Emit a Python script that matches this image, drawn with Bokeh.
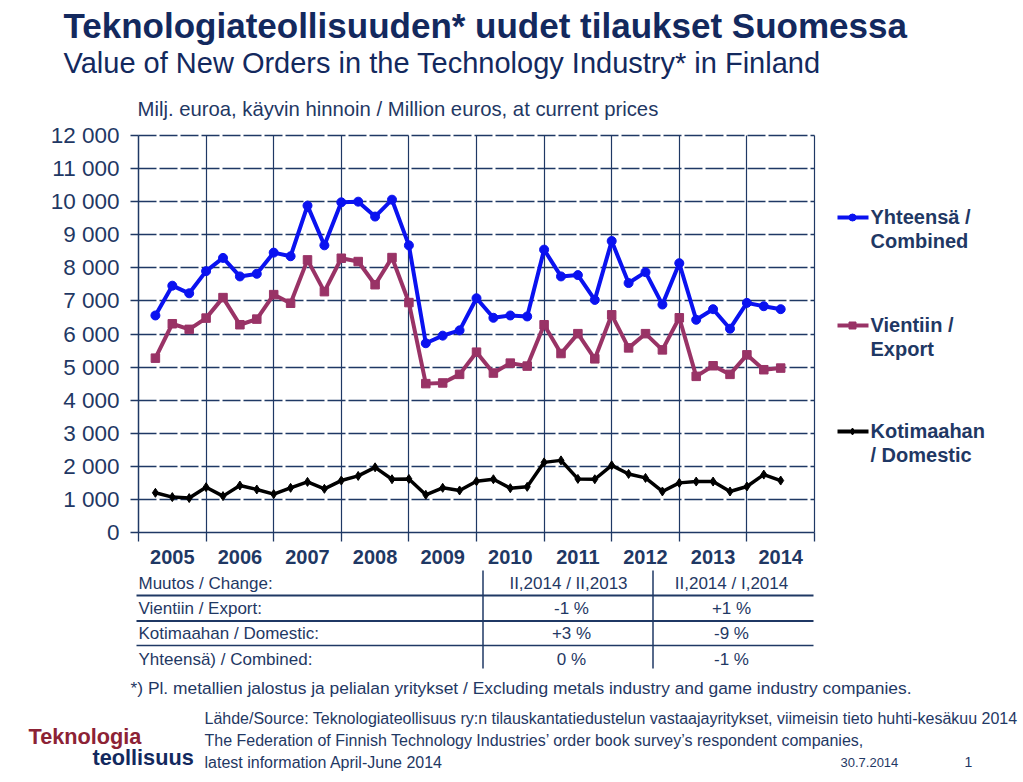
from bokeh.plotting import figure
from bokeh.models import Range1d, LinearAxis, FixedTicker, Grid, Label, Arrow
from bokeh.embed import file_html
from bokeh.resources import INLINE

# ---------------- data (million euros, quarterly 2005 Q1 .. 2014 Q2) ----------------
years = ["2005", "2006", "2007", "2008", "2009", "2010", "2011", "2012", "2013", "2014"]
combined = [6560, 7460, 7230, 7900, 8300, 7740, 7820, 8460, 8350, 9880,
            8680, 9980, 10000, 9550, 10060, 8680, 5720, 5950, 6110, 7080,
            6490, 6560, 6530, 8550, 7740, 7780, 7030, 8810, 7540, 7870,
            6890, 8140, 6430, 6750, 6160, 6940, 6840, 6750]
export = [5270, 6310, 6140, 6480, 7100, 6280, 6450, 7190, 6930, 8240,
          7280, 8290, 8190, 7490, 8310, 6950, 4500, 4520, 4780, 5450,
          4820, 5120, 5030, 6280, 5410, 6010, 5250, 6580, 5580, 6010,
          5520, 6490, 4720, 5040, 4780, 5370, 4920, 4970]
domestic = [1200, 1070, 1040, 1370, 1100, 1420, 1300, 1160, 1350, 1530,
            1320, 1570, 1710, 1970, 1610, 1620, 1140, 1350, 1270, 1550,
            1610, 1340, 1380, 2120, 2180, 1620, 1610, 2030, 1770, 1650,
            1240, 1500, 1540, 1540, 1240, 1390, 1750, 1570]
y_ticks = [0, 1000, 2000, 3000, 4000, 5000, 6000, 7000, 8000, 9000, 10000, 11000, 12000]
y_tick_labels = ["0", "1 000", "2 000", "3 000", "4 000", "5 000", "6 000", "7 000",
                 "8 000", "9 000", "10 000", "11 000", "12 000"]
legend_lines = [["Yhteensä /", "Combined"], ["Vientiin /", "Export"], ["Kotimaahan", "/ Domestic"]]
table_header = ["Muutos / Change:", "II,2014 / II,2013", "II,2014 / I,2014"]
table_rows = ["Vientiin / Export:", "Kotimaahan / Domestic:", "Yhteensä) / Combined:"]
change_year = ["-1 %", "+3 %", "0 %"]
change_quarter = ["+1 %", "-9 %", "-1 %"]

title_fi = "Teknologiateollisuuden* uudet tilaukset Suomessa"
title_en = "Value of New Orders in the Technology Industry* in Finland"
unit_text = "Milj. euroa, käyvin hinnoin / Million euros, at current prices"
footnote = "*) Pl. metallien jalostus ja pelialan yritykset / Excluding metals industry and game industry companies."
source_lines = ["Lähde/Source: Teknologiateollisuus ry:n tilauskantatiedustelun vastaajayritykset, viimeisin tieto huhti-kesäkuu 2014",
                "The Federation of Finnish Technology Industries\u2019 order book survey\u2019s respondent companies,",
                "latest information April-June 2014"]

# ---------------- styling ----------------
FONT = "Liberation Sans"
NAVY = "#1F3864"
TITLE_NAVY = "#13295E"
BLUE = "#0A12F0"
PURPLE = "#993366"
BLACK = "#000000"
LOGO_RED = "#8C2235"

W, H = 1020, 780
Q_PER_YEAR = 4
N_SLOTS = len(years) * Q_PER_YEAR   # 40 quarter slots
OX, OY = 138, 532                   # pixel position of data origin
PX_PER_Q = 676 / N_SLOTS
Y_MAX = 12000
PLOT_H_PX = 397
def dx(px):
    return (px - OX) / PX_PER_Q
def dy(py):
    return (OY - py) * Y_MAX / PLOT_H_PX

p = figure(width=W, height=H, output_backend="svg", toolbar_location=None, tools="",
           x_axis_type=None, y_axis_type=None,
           x_range=Range1d(dx(0), dx(W)), y_range=Range1d(dy(H), dy(0)),
           min_border=0, min_border_left=0, min_border_right=0, min_border_top=0, min_border_bottom=0)
p.outline_line_color = None
p.background_fill_color = "white"
p.border_fill_color = "white"

# ---------------- axes & grids ----------------
year_centers = [i * Q_PER_YEAR + 2 for i in range(len(years))]
year_bounds = [i * Q_PER_YEAR for i in range(len(years) + 1)]

yaxis = LinearAxis(fixed_location=0, bounds=(0, Y_MAX),
                   ticker=FixedTicker(ticks=y_ticks, minor_ticks=[]),
                   major_label_overrides={t: l for t, l in zip(y_ticks, y_tick_labels)},
                   axis_line_color=NAVY, axis_line_width=1.5,
                   major_tick_out=8, major_tick_in=0, major_tick_line_color=NAVY, major_tick_line_width=1.3,
                   minor_tick_line_color=None,
                   major_label_text_font=FONT, major_label_text_font_size="22.5px",
                   major_label_text_color=NAVY, major_label_standoff=11)
p.add_layout(yaxis, "left")

xaxis = LinearAxis(fixed_location=0, bounds=(0, N_SLOTS),
                   ticker=FixedTicker(ticks=year_centers, minor_ticks=year_bounds),
                   major_label_overrides={c: y for c, y in zip(year_centers, years)},
                   axis_line_color=NAVY, axis_line_width=1.5,
                   major_tick_line_color=None, major_tick_out=0, major_tick_in=0,
                   minor_tick_out=9, minor_tick_in=0, minor_tick_line_color=NAVY, minor_tick_line_width=1.3,
                   major_label_text_font=FONT, major_label_text_font_size="20px",
                   major_label_text_font_style="bold", major_label_text_color=NAVY,
                   major_label_standoff=8)
p.add_layout(xaxis, "below")

hgrid = Grid(dimension=1, ticker=FixedTicker(ticks=y_ticks[1:]), cross_bounds=(0, N_SLOTS),
             grid_line_color=NAVY, grid_line_width=1.3, grid_line_dash="18 3")
vgrid = Grid(dimension=0, ticker=FixedTicker(ticks=year_bounds[1:]), cross_bounds=(0, Y_MAX),
             grid_line_color=NAVY, grid_line_width=1.2)
p.add_layout(hgrid)
p.add_layout(vgrid)

# ---------------- series ----------------
xq = list(range(1, len(combined) + 1))
series = [(combined, BLUE, "circle", 4, 9), (export, PURPLE, "square", 4, 8.5), (domestic, BLACK, "diamond", 3.5, 9)]
for vals, col, mk, lw, ms in series:
    p.line(xq, vals, line_color=col, line_width=lw, line_join="round")
    p.scatter(xq, vals, marker=mk, size=ms, fill_color=col, line_color=col)

# ---------------- text helper (py = visual baseline in px) ----------------
def label(px, py, text, size, style="normal", color=NAVY, align="left"):
    p.add_layout(Label(x=dx(px), y=dy(py - 0.4 * size), text=text, text_font=FONT,
                       text_font_size=f"{size}px", text_font_style=style, text_color=color,
                       text_align=align, text_baseline="alphabetic"))

# ---------------- legend (manual) ----------------
leg_y = [217, 325, 431]
leg_cols = [BLUE, PURPLE, BLACK]
leg_mk = ["circle", "square", "diamond"]
for (l1, l2), ly, col, mk in zip(legend_lines, leg_y, leg_cols, leg_mk):
    p.line([dx(837), dx(868)], [dy(ly), dy(ly)], line_color=col, line_width=4)
    p.scatter([dx(852)], [dy(ly)], marker=mk, size=7, fill_color=col, line_color=col)
    label(870, ly + 7, l1, 20, "bold")
    label(870, ly + 31, l2, 20, "bold")

# ---------------- header texts ----------------
label(63, 39, title_fi, 35, "bold", TITLE_NAVY)
label(63, 74, title_en, 29, "normal", TITLE_NAVY)
label(137, 117, unit_text, 20.3)

# ---------------- table ----------------
row_base = [590, 615, 640, 666]
col_x = [138, 568, 731]
label(col_x[0], row_base[0], table_header[0], 17)
label(col_x[1], row_base[0], table_header[1], 17, align="center")
label(col_x[2], row_base[0], table_header[2], 17, align="center")
for i, name in enumerate(table_rows):
    label(col_x[0], row_base[i + 1], name, 17)
    label(col_x[1] + 3, row_base[i + 1], change_year[i], 17, align="center")
    label(col_x[2], row_base[i + 1], change_quarter[i], 17, align="center")

for ly, lw in ((595, 2.2), (620.5, 2.0), (645, 1.5)):
    p.add_layout(Arrow(end=None, x_start=dx(136), y_start=dy(ly), x_end=dx(813), y_end=dy(ly),
                       line_color=NAVY, line_width=lw))
for lx in (482.5, 652.5):
    p.add_layout(Arrow(end=None, x_start=dx(lx), y_start=dy(570), x_end=dx(lx), y_end=dy(668),
                       line_color=NAVY, line_width=1.5))

# ---------------- footer ----------------
label(130, 694, footnote, 17.4)
for txt, by in zip(source_lines, (724, 746, 768)):
    label(204, by, txt, 16)
label(840, 767, "30.7.2014", 13)
label(964, 767, "1", 14)
label(28, 745, "Teknologia", 21.7, "bold", LOGO_RED)
label(92, 766, "teollisuus", 21.7, "bold", TITLE_NAVY)

open("out.html", "w").write(file_html(p, INLINE))
